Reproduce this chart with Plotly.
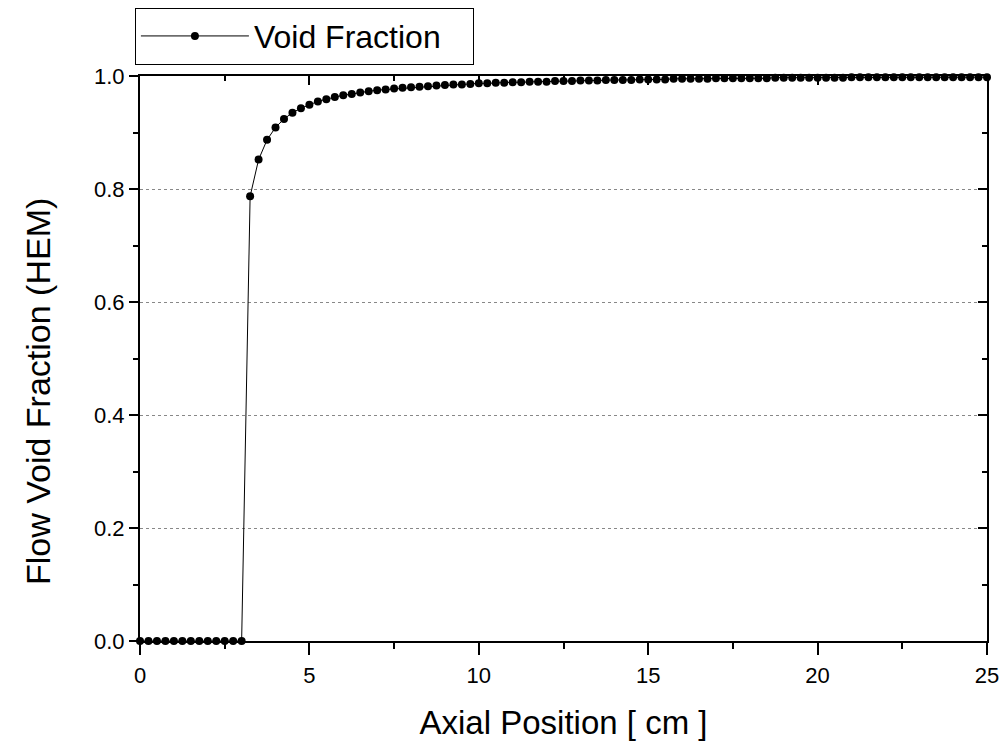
import plotly.graph_objects as go

# Axial position grid [cm]
axial_position = [i * 0.25 for i in range(101)]

# Void fraction values
void_fraction = [
    0.0, 0.0, 0.0, 0.0, 0.0, 0.0, 0.0, 0.0, 0.0, 0.0, 0.0, 0.0, 0.0,
    0.787, 0.852, 0.887, 0.909, 0.924, 0.935, 0.943, 0.949, 0.955, 0.959,
    0.963, 0.966, 0.968, 0.971, 0.973, 0.975, 0.976, 0.978, 0.979, 0.980,
    0.981, 0.982, 0.983, 0.984, 0.985, 0.985, 0.986, 0.987, 0.987, 0.988,
    0.988, 0.989, 0.989, 0.990, 0.990, 0.990, 0.991, 0.991, 0.991, 0.992,
    0.992, 0.992, 0.993, 0.993, 0.993, 0.993, 0.994, 0.994, 0.994, 0.994,
    0.995, 0.995, 0.995, 0.995, 0.995, 0.996, 0.996, 0.996, 0.996, 0.996,
    0.996, 0.996, 0.997, 0.997, 0.997, 0.997, 0.997, 0.997, 0.997, 0.997,
    0.997, 0.998, 0.998, 0.998, 0.998, 0.998, 0.998, 0.998, 0.998, 0.998,
    0.998, 0.998, 0.998, 0.998, 0.998, 0.998, 0.998, 0.998,
]

x_ticks = [0, 5, 10, 15, 20, 25]
y_ticks = [0.0, 0.2, 0.4, 0.6, 0.8, 1.0]
y_tick_labels = ["0.0", "0.2", "0.4", "0.6", "0.8", "1.0"]

FONT = "Liberation Sans, Arial, sans-serif"

fig = go.Figure()
fig.add_trace(go.Scatter(
    x=axial_position, y=void_fraction, mode="lines+markers",
    name="Void Fraction\u00a0\u00a0\u00a0",
    line=dict(color="black", width=1),
    marker=dict(color="black", size=8, symbol="circle"),
    cliponaxis=False,
))
# invisible trace to activate the mirror axes (top/right, inward ticks)
fig.add_trace(go.Scatter(
    x=[axial_position[0]], y=[void_fraction[0]], xaxis="x2", yaxis="y2",
    mode="markers", marker=dict(opacity=0), showlegend=False, hoverinfo="skip",
))

common = dict(showline=True, linecolor="black", linewidth=2, zeroline=False,
              tickcolor="black", tickwidth=2,
              tickfont=dict(family=FONT, size=22, color="black"))

fig.update_layout(
    width=1006, height=744,
    margin=dict(l=140, r=19, t=76, b=103, autoexpand=False),
    plot_bgcolor="white", paper_bgcolor="white",
    font=dict(family=FONT, color="black"),
    showlegend=True,
    legend=dict(
        x=-0.006, y=1.121, xanchor="left", yanchor="top",
        bordercolor="black", borderwidth=1, bgcolor="white",
        font=dict(family=FONT, size=32, color="black"),
        itemwidth=108,
    ),
    annotations=[dict(
        text="Flow Void Fraction (HEM)", textangle=-90,
        xref="paper", yref="paper", x=-0.1204, y=0.4407,
        xanchor="center", yanchor="middle", showarrow=False,
        font=dict(family=FONT, size=34, color="black"),
    )],
    xaxis=dict(
        range=[0, 25], tickmode="array", tickvals=x_ticks,
        ticks="outside", ticklen=12, ticklabelstandoff=2,
        minor=dict(ticks="outside", ticklen=6, dtick=2.5, tick0=0,
                   tickcolor="black", tickwidth=2),
        showgrid=False,
        title=dict(text="Axial Position [ cm ]",
                   font=dict(family=FONT, size=33, color="black"), standoff=23),
        **common,
    ),
    yaxis=dict(
        range=[0, 1], tickmode="array", tickvals=y_ticks, ticktext=y_tick_labels,
        ticks="outside", ticklen=9,
        minor=dict(ticks="outside", ticklen=5, dtick=0.1, tick0=0,
                   tickcolor="black", tickwidth=2),
        showgrid=True, gridcolor="#888888", griddash="dot", gridwidth=1,
        **common,
    ),
    xaxis2=dict(
        overlaying="x", side="top", matches="x", range=[0, 25],
        tickmode="array", tickvals=x_ticks, showticklabels=False,
        ticks="inside", ticklen=9,
        minor=dict(ticks="inside", ticklen=5, dtick=2.5, tick0=0,
                   tickcolor="black", tickwidth=2),
        showgrid=False, **common,
    ),
    yaxis2=dict(
        overlaying="y", side="right", matches="y", range=[0, 1],
        tickmode="array", tickvals=y_ticks, showticklabels=False,
        ticks="inside", ticklen=9,
        minor=dict(ticks="inside", ticklen=5, dtick=0.1, tick0=0,
                   tickcolor="black", tickwidth=2),
        showgrid=False, **common,
    ),
)

fig.write_html("out.html")
